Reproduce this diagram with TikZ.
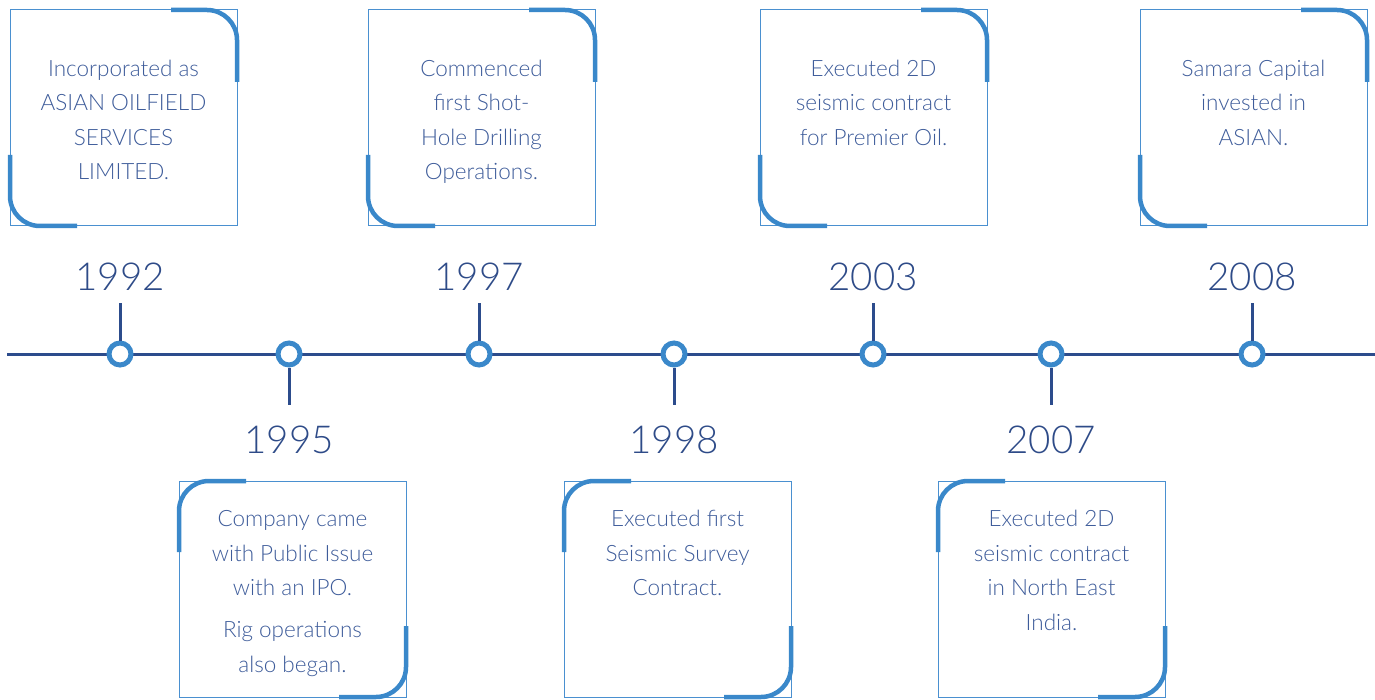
\documentclass[tikz,border=0pt]{standalone}
\usepackage{fontspec}
\setmainfont{Lato}[UprightFont=* Light]
\usetikzlibrary{calc}
\definecolor{accent}{HTML}{3A88CA}
\definecolor{thinblue}{HTML}{4A90D0}
\definecolor{txtblue}{HTML}{3E5C9A}
\definecolor{yearblue}{HTML}{2E4B88}
\definecolor{lineblue}{HTML}{2C4C8C}
\begin{document}
\begin{tikzpicture}[x=1pt,y=-1pt,
  box/.style={draw=thinblue, line width=1pt, minimum width=227pt, minimum height=216pt, inner sep=0pt, outer sep=0pt, anchor=north west},
  accentline/.style={draw=accent, line width=4.5pt, rounded corners=30pt},
  txt/.style={text=txtblue, font=\fontsize{22.5}{34.5}\selectfont, align=center, anchor=base, inner sep=0pt},
  year/.style={text=yearblue, font=\fontsize{38.5}{40}\selectfont, anchor=base, inner sep=0pt},
  dot/.style={circle, draw=accent, fill=white, line width=5pt, minimum size=22pt, inner sep=0pt},
  tl/.style={draw=lineblue, line width=3pt}
]
\useasboundingbox (0,0) rectangle (1375,700);

% timeline
\coordinate (L) at (7,354);
\coordinate (R) at (1375,354);
\draw[tl] (L) -- (R);

% stems
\foreach \n/\x in {a/120, c/479, e/873, g/1252}{
  \coordinate (s\n) at (\x,303);
}
\foreach \n/\x in {b/289, d/674, f/1051}{
  \coordinate (s\n) at (\x,405);
}
\foreach \n/\x in {a/120, b/289, c/479, d/674, e/873, f/1051, g/1252}{
  \node[dot] (d\n) at (\x,354) {};
  \draw[tl] (d\n) -- (s\n);
}

\node[year] (y1992) at (120,291) {1992};
\node[year] (y1997) at (479,291) {1997};
\node[year] (y2003) at (873,291) {2003};
\node[year] (y2008) at (1252,291) {2008};
\node[year] (y1995) at (289,453) {1995};
\node[year] (y1998) at (674,453) {1998};
\node[year] (y2007) at (1051,453) {2007};

% top boxes
\foreach \n/\x in {b1992/10, b1997/368, b2003/760, b2008/1140}{
  \node[box] (\n) at (\x,10) {};
  \draw[accentline] ($(\n.north east)+(-66,0)$) -- (\n.north east) -- ($(\n.north east)+(0,72)$);
  \draw[accentline] ($(\n.south west)+(0,-71)$) -- (\n.south west) -- ($(\n.south west)+(67,0)$);
}
% bottom boxes
\foreach \n/\x in {b1995/179, b1998/564, b2007/938}{
  \node[box] (\n) at (\x,481) {};
  \draw[accentline] ($(\n.north west)+(0,71)$) -- (\n.north west) -- ($(\n.north west)+(67,0)$);
  \draw[accentline] ($(\n.south east)+(0,-71)$) -- (\n.south east) -- ($(\n.south east)+(-67,0)$);
}

% texts (base anchor = baseline of the last line)
\node[txt] (t1992) at ($(b1992.north)+(0,170)$) {Incorporated as\\ASIAN OILFIELD\\SERVICES\\LIMITED.};
\node[txt] (t1997) at ($(b1997.north)+(0,170)$) {Commenced\\first Shot-\\Hole Drilling\\Operations.};
\node[txt] (t2003) at ($(b2003.north)+(0,135.5)$) {Executed 2D\\seismic contract\\for Premier Oil.};
\node[txt] (t2008) at ($(b2008.north)+(0,135.5)$) {Samara Capital\\invested in\\ASIAN.};
\node[txt] (t1995) at ($(b1995.north)+(0,191)$) {Company came\\with Public Issue\\with an IPO.\\[7.5pt]Rig operations\\also began.};
\node[txt] (t1998) at ($(b1998.north)+(0,114.5)$) {Executed first\\Seismic Survey\\Contract.};
\node[txt] (t2007) at ($(b2007.north)+(0,149)$) {Executed 2D\\seismic contract\\in North East\\India.};
\end{tikzpicture}
\end{document}
